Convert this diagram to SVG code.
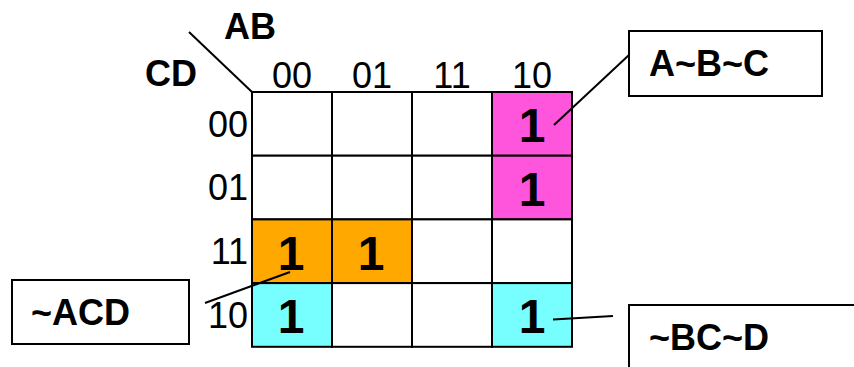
<svg xmlns="http://www.w3.org/2000/svg" width="854" height="367" viewBox="0 0 854 367">
<style>
.lbl{font-family:"Liberation Sans",Arial,sans-serif;font-size:36px;fill:#000}
.b{font-weight:bold}
.one{font-family:"Liberation Sans",Arial,sans-serif;font-size:48px;font-weight:bold;fill:#000;text-anchor:middle}
.cell{stroke:#000;stroke-width:2}
.box{fill:#fff;stroke:#000;stroke-width:2}
.ln{stroke:#000;stroke-width:2;fill:none}
</style>
<rect width="854" height="367" fill="#fff"/>
<g id="axis">
<line class="ln" x1="189" y1="32" x2="252" y2="92"/>
<text class="lbl b" x="224" y="39">AB</text>
<text class="lbl b" x="145" y="86">CD</text>
<g text-anchor="middle">
<text class="lbl" x="292" y="88">00</text>
<text class="lbl" x="372" y="88">01</text>
<text class="lbl" x="452" y="88">11</text>
<text class="lbl" x="532" y="88">10</text>
</g>
<g text-anchor="end">
<text class="lbl" x="248" y="137">00</text>
<text class="lbl" x="248" y="200">01</text>
<text class="lbl" x="248" y="264">11</text>
<text class="lbl" x="248" y="328">10</text>
</g>
</g>
<g id="kmap">
<rect class="cell" x="252" y="92" width="80" height="63.7" fill="#fff"/>
<rect class="cell" x="332" y="92" width="80" height="63.7" fill="#fff"/>
<rect class="cell" x="412" y="92" width="80" height="63.7" fill="#fff"/>
<rect class="cell" x="492" y="92" width="80" height="63.7" fill="#FF55DD"/>
<rect class="cell" x="252" y="155.7" width="80" height="63.7" fill="#fff"/>
<rect class="cell" x="332" y="155.7" width="80" height="63.7" fill="#fff"/>
<rect class="cell" x="412" y="155.7" width="80" height="63.7" fill="#fff"/>
<rect class="cell" x="492" y="155.7" width="80" height="63.7" fill="#FF55DD"/>
<rect class="cell" x="252" y="219.4" width="80" height="63.7" fill="#FFA800"/>
<rect class="cell" x="332" y="219.4" width="80" height="63.7" fill="#FFA800"/>
<rect class="cell" x="412" y="219.4" width="80" height="63.7" fill="#fff"/>
<rect class="cell" x="492" y="219.4" width="80" height="63.7" fill="#fff"/>
<rect class="cell" x="252" y="283.1" width="80" height="63.7" fill="#77FFFF"/>
<rect class="cell" x="332" y="283.1" width="80" height="63.7" fill="#fff"/>
<rect class="cell" x="412" y="283.1" width="80" height="63.7" fill="#fff"/>
<rect class="cell" x="492" y="283.1" width="80" height="63.7" fill="#77FFFF"/>
<text class="one" x="532" y="142">1</text>
<text class="one" x="532" y="206">1</text>
<text class="one" x="291" y="270">1</text>
<text class="one" x="371" y="270">1</text>
<text class="one" x="291" y="333">1</text>
<text class="one" x="532" y="333">1</text>
</g>
<g id="connectors">
<line class="ln" x1="629" y1="55" x2="554" y2="125"/>
<line class="ln" x1="205" y1="303" x2="290" y2="272"/>
<line class="ln" x1="553" y1="319.5" x2="613" y2="316"/>
</g>
<g id="term-ABC">
<rect class="box" x="629" y="31" width="193" height="65"/>
<text class="lbl b" x="649" y="76">A~B~C</text>
</g>
<g id="term-ACD">
<rect class="box" x="12" y="280" width="177" height="64"/>
<text class="lbl b" x="31" y="325">~ACD</text>
</g>
<g id="term-BCD">
<rect class="box" x="629" y="305" width="260" height="100"/>
<text class="lbl b" x="649" y="350">~BC~D</text>
</g>
</svg>
